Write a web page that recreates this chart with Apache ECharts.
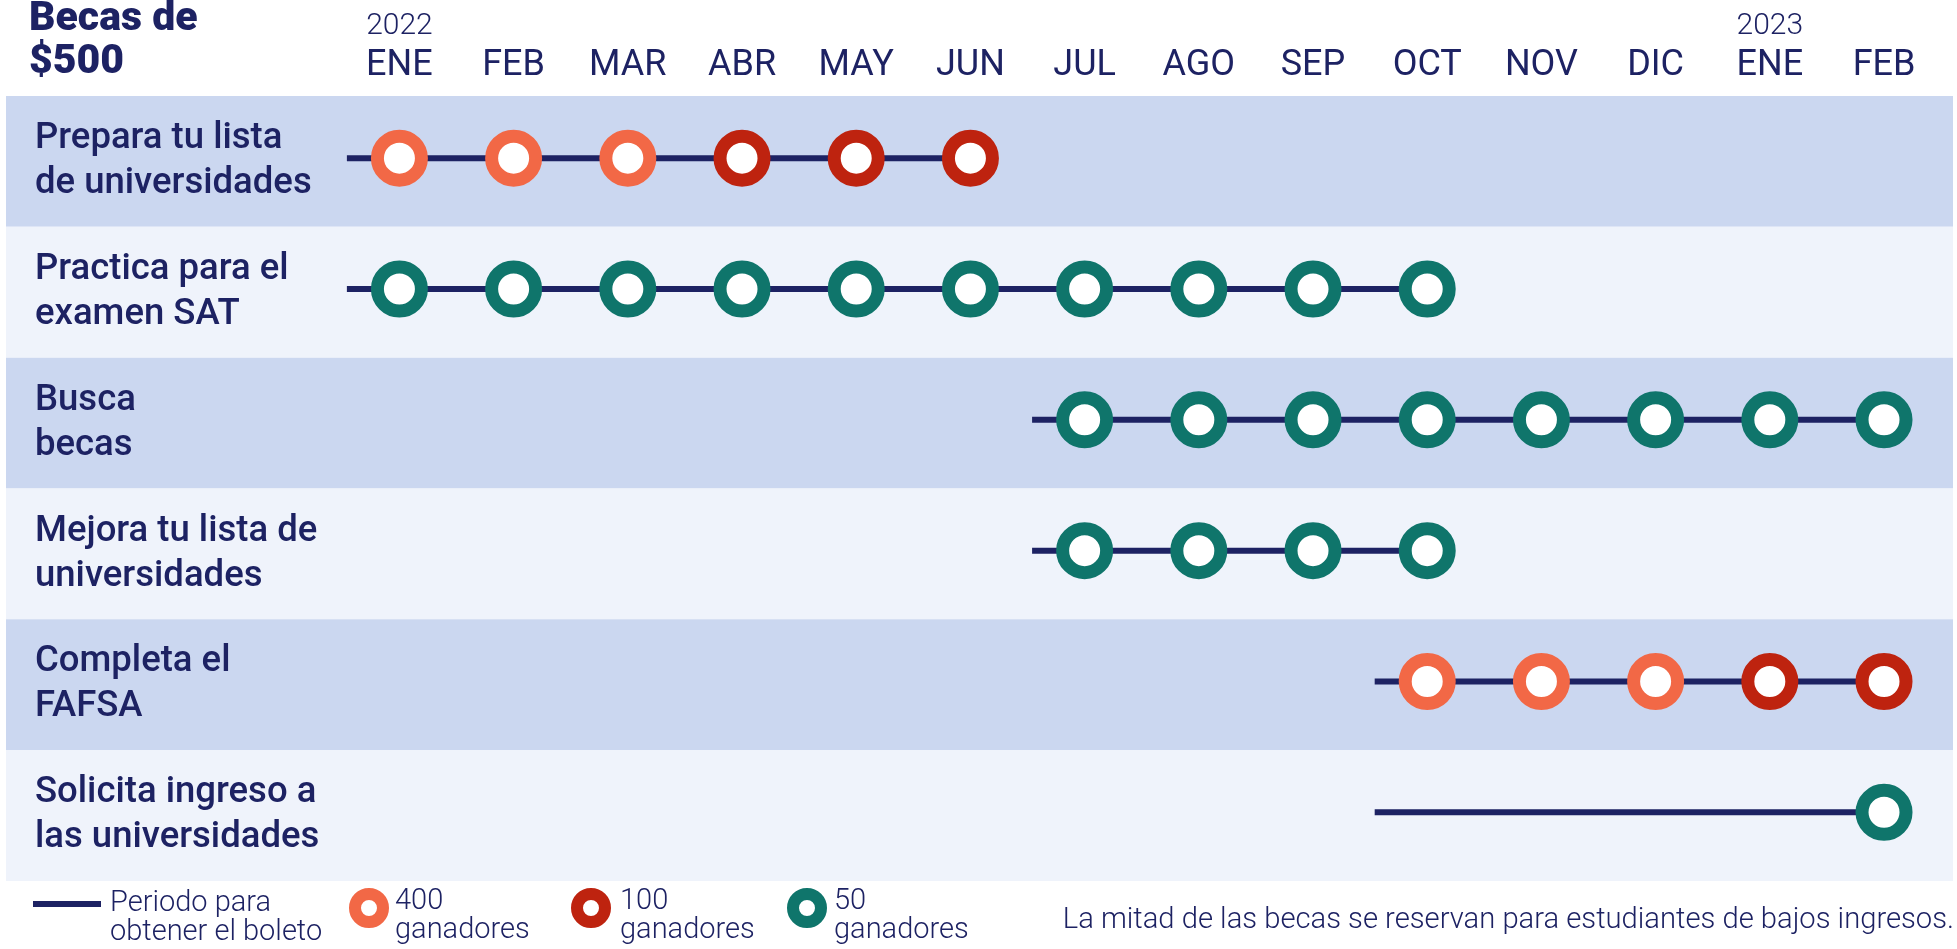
<!DOCTYPE html>
<html>
<head>
<meta charset="utf-8">
<title>Becas de $500</title>
<script src="https://cdn.jsdelivr.net/npm/echarts@6/dist/echarts.min.js"></script>
<style>
html,body{margin:0;padding:0;background:#fff}
#main{width:1957px;height:949px}
</style>
</head>
<body>
<div id="main"></div>
<script>
var months = ['ENE','FEB','MAR','ABR','MAY','JUN','JUL','AGO','SEP','OCT','NOV','DIC','ENE','FEB'];
var years = {0: '2022', 12: '2023'};
var tasks = [
  'Prepara tu lista\nde universidades',
  'Practica para el\nexamen SAT',
  'Busca\nbecas',
  'Mejora tu lista de\nuniversidades',
  'Completa el\nFAFSA',
  'Solicita ingreso a\nlas universidades'
];
// periodo para obtener el boleto (indice de mes)
var periodStart = [0, 0, 6, 6, 9, 9];
var periodEnd = [5, 9, 13, 9, 13, 13];
// [mes, tarea]
var winners400 = [[0,0],[1,0],[2,0],[9,4],[10,4],[11,4]];
var winners100 = [[3,0],[4,0],[5,0],[12,4],[13,4]];
var winners50 = [
  [0,1],[1,1],[2,1],[3,1],[4,1],[5,1],[6,1],[7,1],[8,1],[9,1],
  [6,2],[7,2],[8,2],[9,2],[10,2],[11,2],[12,2],[13,2],
  [6,3],[7,3],[8,3],[9,3],
  [13,5]
];

var navy = '#1d2263';
var font = 'Roboto';
var periodName = 'Periodo para\nobtener el boleto';
var lift = 0.025; // las marcas van un poco por encima del centro de la fila
function rowY(i) { return i + 0.5 - lift; }

var chart = echarts.init(document.getElementById('main'));

var series = [];
tasks.forEach(function (t, i) {
  series.push({
    name: periodName, type: 'line', color: navy, symbol: 'none', z: 2,
    lineStyle: {color: navy, width: 6},
    data: [[periodStart[i] - 0.46, rowY(i)], [periodEnd[i], rowY(i)]]
  });
});
function ring(name, color, data) {
  return {
    name: name, type: 'scatter', color: color, z: 5,
    symbolSize: 44,
    itemStyle: {color: '#fff', borderColor: color, borderWidth: 13, opacity: 1},
    data: data.map(function (d) { return [d[0], rowY(d[1])]; })
  };
}
series.push(ring('400\nganadores', '#f26846', winners400));
series.push(ring('100\nganadores', '#be230f', winners100));
series.push(ring('50\nganadores', '#0f756b', winners50));

var legendText = {fontFamily: font, fontWeight: 300, fontSize: 29, lineHeight: 29, color: navy};
function legendLabel(name) {
  return '{e| }\n' + name.split('\n').map(function (s) { return '{t|' + s + '}'; }).join('\n');
}
function ringLegend(name, left, pad) {
  return {
    data: [name], left: left, top: 875, padding: 0, selectedMode: false,
    icon: 'circle', itemWidth: 28, itemHeight: 28,
    itemStyle: {borderWidth: 12},
    formatter: legendLabel,
    textStyle: {padding: [0, 0, 0, pad], rich: {e: {lineHeight: 16.5, fontSize: 8}, t: legendText}}
  };
}

chart.setOption({
  animation: false,
  title: [
    {text: 'Becas de\n$500', left: 29, top: -2, padding: 0,
      textStyle: {fontFamily: font, fontWeight: 900, fontSize: 41, lineHeight: 43, color: navy}},
    {text: 'La mitad de las becas se reservan para estudiantes de bajos ingresos.', right: 3, top: 906, padding: 0,
      textStyle: {fontFamily: font, fontWeight: 300, fontSize: 29.2, lineHeight: 29, color: navy}}
  ],
  legend: [
    {data: [periodName], left: 33, top: 871, padding: 0, selectedMode: false,
      icon: 'rect', itemWidth: 68, itemHeight: 6, itemStyle: {borderWidth: 0},
      formatter: legendLabel,
      textStyle: {padding: [0, 0, 0, 4], rich: {e: {lineHeight: 29, fontSize: 8}, t: legendText}}},
    ringLegend('400\nganadores', 349, 7),
    ringLegend('100\nganadores', 571, 10),
    ringLegend('50\nganadores', 787, 8)
  ],
  grid: {left: 6, right: 4, top: 96, bottom: 68, containLabel: false},
  xAxis: {
    type: 'value', position: 'top', min: -3.445, max: 13.604,
    axisLine: {show: false}, axisTick: {show: false}, splitLine: {show: false},
    axisLabel: {
      customValues: months.map(function (m, i) { return i; }),
      margin: 10,
      formatter: function (v) {
        var m = months[v];
        return years[v] ? '{y|' + years[v] + '}\n{m|' + m + '}' : '{m|' + m + '}';
      },
      rich: {
        y: {fontFamily: font, fontWeight: 300, fontSize: 30, lineHeight: 40, color: navy},
        m: {fontFamily: font, fontWeight: 400, fontSize: 36, lineHeight: 40, color: navy}
      }
    }
  },
  yAxis: {
    type: 'value', inverse: true, min: 0, max: tasks.length, interval: 1,
    axisLine: {show: false}, axisTick: {show: false}, splitLine: {show: false},
    splitArea: {show: true, areaStyle: {color: ['#cbd7f0', '#eff3fb']}},
    axisLabel: {
      customValues: tasks.map(function (t, i) { return i + 0.5; }),
      formatter: function (v) { return tasks[Math.floor(v)]; },
      inside: true, align: 'left', margin: 29,
      fontFamily: font, fontWeight: 500, fontSize: 36.5, lineHeight: 45, color: navy
    }
  },
  series: series
});
</script>
</body>
</html>
